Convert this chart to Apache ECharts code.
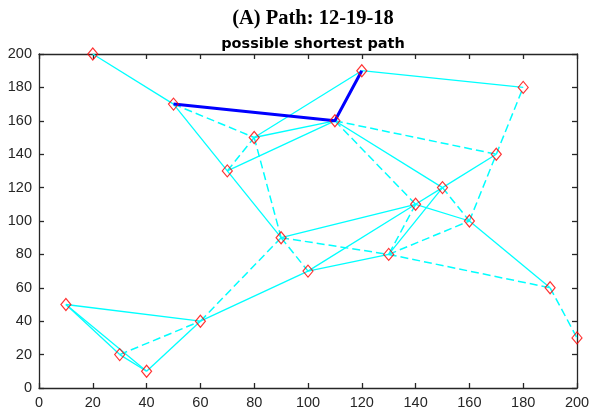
<!DOCTYPE html>
<html>
<head>
<meta charset="utf-8">
<script src="https://cdn.jsdelivr.net/npm/echarts@6/dist/echarts.min.js"></script>
<style>html,body{margin:0;padding:0;background:#fff}#c{width:593px;height:410px}</style>
</head>
<body>
<div id="c"></div>
<script>
// Node coordinates
const nodes = [
  [20,200],[50,170],[120,190],[110,160],[180,180],[80,150],[70,130],[170,140],
  [150,120],[140,110],[160,100],[90,90],[130,80],[100,70],[190,60],[200,30],
  [10,50],[60,40],[30,20],[40,10]
];
// Solid edges (pairs of coordinates)
const solidEdges = [
  [[20,200],[50,170]],[[50,170],[70,130]],[[70,130],[90,90]],[[70,130],[110,160]],
  [[80,150],[110,160]],[[80,150],[120,190]],[[120,190],[180,180]],[[110,160],[150,120]],
  [[150,120],[170,140]],[[150,120],[140,110]],[[150,120],[130,80]],[[140,110],[90,90]],
  [[140,110],[160,100]],[[140,110],[100,70]],[[160,100],[190,60]],[[100,70],[130,80]],
  [[100,70],[60,40]],[[60,40],[40,10]],[[60,40],[10,50]],[[10,50],[30,20]],
  [[10,50],[40,10]],[[30,20],[40,10]]
];
// Dashed edges
const dashedEdges = [
  [[50,170],[80,150]],[[70,130],[80,150]],[[80,150],[90,90]],[[90,90],[100,70]],
  [[90,90],[60,40]],[[90,90],[130,80]],[[130,80],[190,60]],[[190,60],[200,30]],
  [[110,160],[170,140]],[[110,160],[140,110]],[[150,120],[160,100]],[[140,110],[130,80]],
  [[130,80],[160,100]],[[160,100],[170,140]],[[170,140],[180,180]],[[30,20],[60,40]]
];
// Shortest path
const pathPts = [[50,170],[110,160],[120,190]];
const xTicks = [0,20,40,60,80,100,120,140,160,180,200];
const yTicks = [0,20,40,60,80,100,120,140,160,180,200];

const chart = echarts.init(document.getElementById('c'), null, {renderer:'canvas'});
const axisCol = '#262626';
const labelStyle = {color: axisCol, fontFamily: 'Liberation Sans, Arial, sans-serif', fontSize: 14.5};
function mkAxis(pos, showLabel, ticks){
  return {
    type:'value', position: pos, min: ticks[0], max: ticks[ticks.length-1], interval: 20,
    axisLine:{show:true, onZero:false, lineStyle:{color:axisCol, width:1.3}},
    axisTick:{show:true, inside:true, length:5, lineStyle:{color:axisCol, width:1.3}},
    axisLabel: Object.assign({show:showLabel, margin:7}, labelStyle),
    splitLine:{show:false}
  };
}
const option = {
  animation:false,
  backgroundColor:'#fff',
  title:[
    {text:'(A) Path: 12-19-18', left:308, top:3, textAlign:'center',
     textStyle:{fontFamily:'Liberation Serif, Times New Roman, serif', fontWeight:'bold', fontSize:20.5, color:'#000'}},
    {text:'possible shortest path', left:308, top:32, textAlign:'center',
     textStyle:{fontFamily:'DejaVu Sans, sans-serif', fontWeight:'bold', fontSize:14.5, color:'#000'}}
  ],
  grid:{left:39, right:16, top:54, bottom:20, containLabel:false},
  xAxis:[mkAxis('bottom', true, xTicks), mkAxis('top', false, xTicks)],
  yAxis:[mkAxis('left', true, yTicks), mkAxis('right', false, yTicks)],
  series:[
    {type:'lines', coordinateSystem:'cartesian2d', xAxisIndex:0, yAxisIndex:0, z:2,
     lineStyle:{color:'#00ffff', width:1.3, type:'solid', opacity:1},
     data: solidEdges.map(e=>({coords:e}))},
    {type:'lines', coordinateSystem:'cartesian2d', xAxisIndex:0, yAxisIndex:0, z:2,
     lineStyle:{color:'#00ffff', width:1.5, type:[8,4], opacity:1},
     data: dashedEdges.map(e=>({coords:e}))},
    {type:'line', xAxisIndex:0, yAxisIndex:0, z:3, showSymbol:false, symbol:'none',
     lineStyle:{color:'#0000ff', width:3},
     data: pathPts},
    {type:'scatter', xAxisIndex:0, yAxisIndex:0, z:4, symbol:'diamond', symbolSize:[10,12],
     itemStyle:{color:'rgba(0,0,0,0)', borderColor:'#ff0000', borderWidth:1.2},
     data: nodes}
  ]
};
chart.setOption(option);
</script>
</body>
</html>
